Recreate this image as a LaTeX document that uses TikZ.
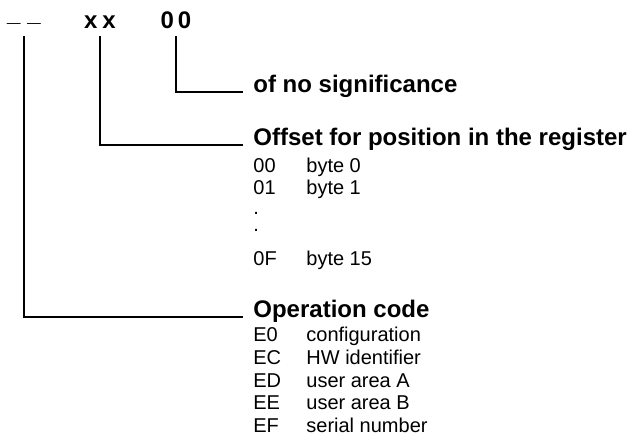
\documentclass[tikz,border=0pt]{standalone}
\usepackage{fontspec}
\setmainfont{Liberation Sans}

\begin{document}
\begin{tikzpicture}[x=0.5pt,y=-0.5pt,
    field/.style={inner sep=0, anchor=base, font=\fontsize{12}{14}\selectfont\bfseries},
    heading/.style={inner sep=0, anchor=base west, font=\fontsize{12}{14}\selectfont\bfseries},
    entry/.style={inner sep=0, anchor=base west, font=\fontsize{10}{12}\selectfont},
    wire/.style={line width=0.75pt}]

        \useasboundingbox (0,0) rectangle (630,441);

        \node[field] (op) at (24,21) {\_\hspace{3.5pt}\_};
        \node[field] (pos) at (100,28) {x\hspace{2.5pt}x};
        \node[field] (val) at (176,28) {0\hspace{2pt}0};

        \node[heading] (nosig) at (253,92) {of no significance};
        \node[heading] (offset) at (253,145) {Offset for position in the register};
        \node[heading] (opcode) at (253,317) {Operation code};

        \node[entry] (b00) at (253,172) {\makebox[26.5pt][l]{00}byte 0};
        \node[entry] (b01) at (253,194) {\makebox[26.5pt][l]{01}byte 1};
        \node[entry] (dot1) at (253,214) {.};
        \node[entry] (dot2) at (253,231) {.};
        \node[entry] (b0F) at (253,265) {\makebox[26.5pt][l]{0F}byte 15};

        \node[entry] (e0) at (253,341) {\makebox[26.5pt][l]{E0}configuration};
        \node[entry] (ec) at (253,364) {\makebox[26.5pt][l]{EC}HW identifier};
        \node[entry] (ed) at (253,387) {\makebox[26.5pt][l]{ED}user area A};
        \node[entry] (ee) at (253,409) {\makebox[26.5pt][l]{EE}user area B};
        \node[entry] (ef) at (253,432) {\makebox[26.5pt][l]{EF}serial number};

        \draw[wire] ([yshift=-4pt]val.base) |- ([xshift=-5pt]nosig.base west);
        \draw[wire] ([yshift=-4pt]pos.base) |- ([xshift=-5pt]offset.base west);
        \draw[wire] ([yshift=-7.5pt]op.base) |- ([xshift=-5pt]opcode.base west);
    \end{tikzpicture}
\end{document}
